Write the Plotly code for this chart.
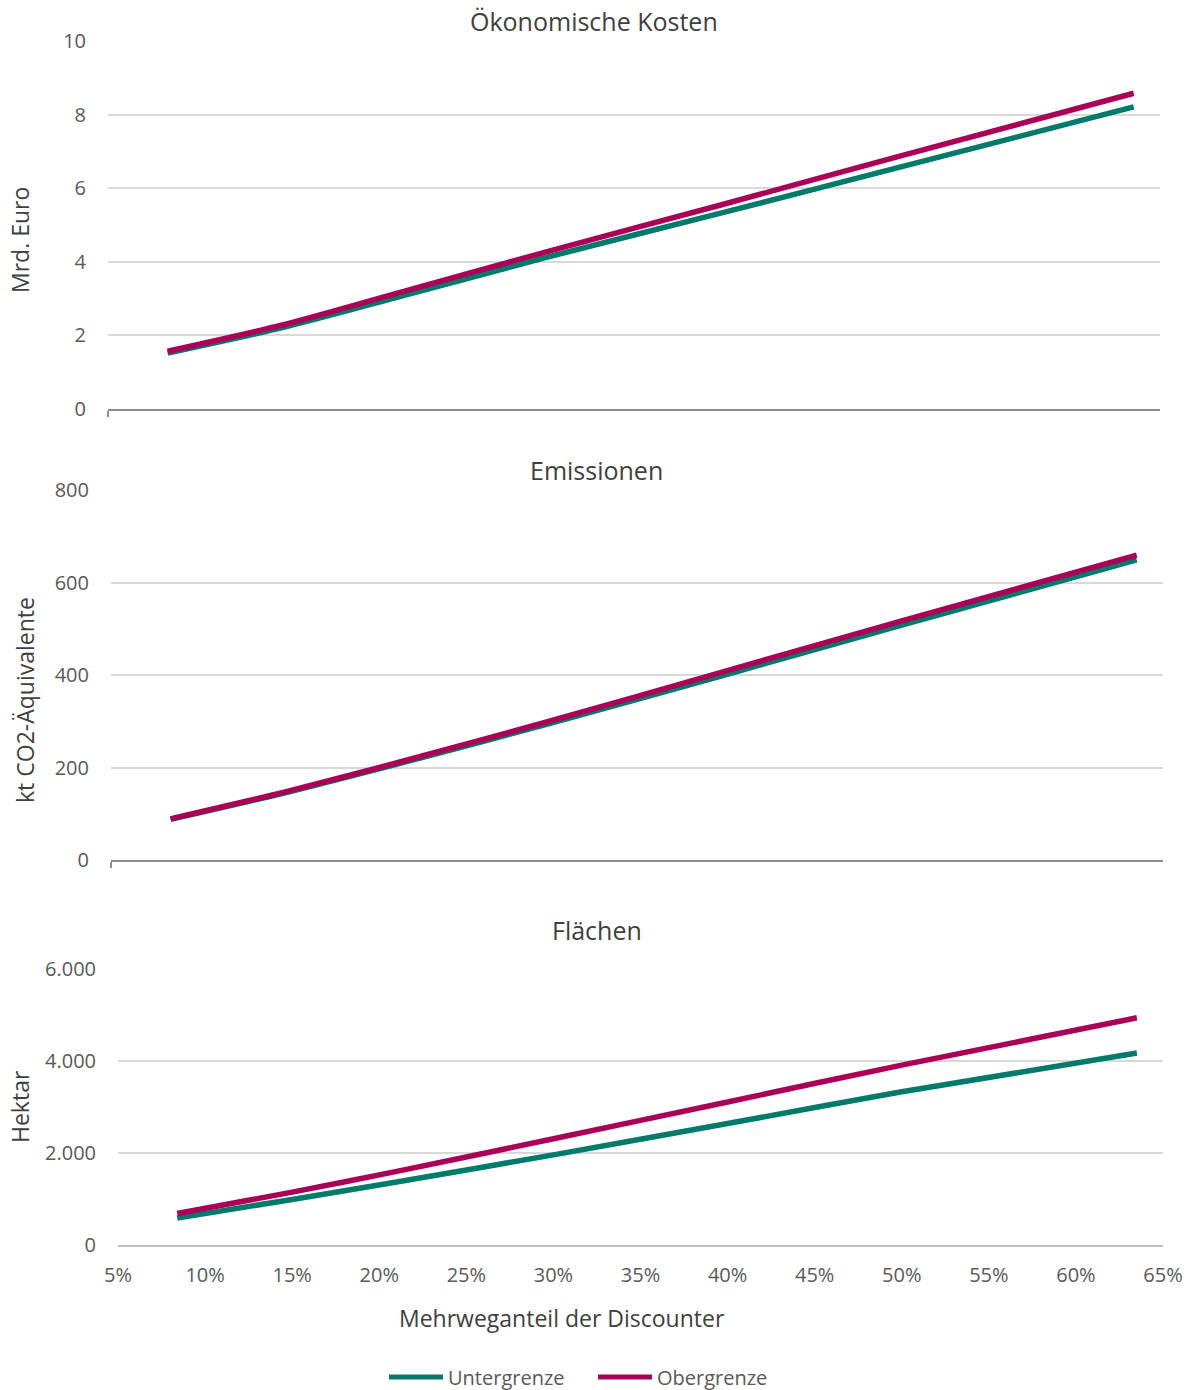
import plotly.graph_objects as go

# Mehrweganteil der Discounter (Anteil, 0-1)
share = [0.084, 0.15, 0.21, 0.30, 0.40, 0.50, 0.635]

# Ökonomische Kosten in Mrd. Euro
kosten_unter = [1.52, 2.22, 2.97, 4.12, 5.33, 6.55, 8.21]
kosten_ober = [1.57, 2.29, 3.08, 4.27, 5.55, 6.85, 8.58]

# Emissionen in kt CO2-Äquivalente
emis_unter = [88, 146, 204, 295, 400, 507, 649]
emis_ober = [89, 148, 207, 300, 408, 516, 659]

# Flächen in Hektar
flaeche_unter = [585, 990, 1370, 1960, 2640, 3330, 4175]
flaeche_ober = [685, 1150, 1600, 2310, 3110, 3910, 4940]

panel_titles = ["Ökonomische Kosten", "Emissionen", "Flächen"]
y_titles = ["Mrd. Euro", "kt CO2-Äquivalente", "Hektar"]
series_names = ["Untergrenze", "Obergrenze"]

GREEN = "#007A6B"
MAGENTA = "#AA0057"
FONT = "Open Sans"
TICK_COLOR = "#595959"
TITLE_COLOR = "#404040"
W, H = 1194, 1390


def px_x(p):
    return p / W


def px_y(p):
    return 1 - p / H


fig = go.Figure()

panels = [
    (kosten_unter, kosten_ober, "x", "y"),
    (emis_unter, emis_ober, "x2", "y2"),
    (flaeche_unter, flaeche_ober, "x3", "y3"),
]
for i, (lo, hi, xa, ya) in enumerate(panels):
    for vals, name, color in ((lo, series_names[0], GREEN), (hi, series_names[1], MAGENTA)):
        fig.add_trace(go.Scatter(
            x=share, y=vals, name=name, mode="lines",
            line=dict(color=color, width=5.5, shape="spline", smoothing=0.8),
            xaxis=xa, yaxis=ya, showlegend=False,
        ))

# plot-area boxes in pixels: (left, right, top, bottom)
boxes = [(108, 1160, 41, 409), (111, 1163, 490, 860), (118, 1163, 969, 1245)]
y_ranges = [(0, 10, 2), (0, 800, 200), (0, 6000, 2000)]

common_y = dict(
    showgrid=True, gridcolor="#d9d9d9", gridwidth=1.5, zeroline=False,
    showline=False, ticks="", tickfont=dict(family=FONT, size=20, color=TICK_COLOR),
    ticklabelstandoff=21, tickformat=",d", automargin=False,
)

layout_axes = {}
for i, ((l, r, t, b), (y0, y1, dt)) in enumerate(zip(boxes, y_ranges)):
    sfx = "" if i == 0 else str(i + 1)
    xa = dict(
        domain=[px_x(l), px_x(r)], range=[0.05, 0.65], anchor="y" + sfx,
        showgrid=False, zeroline=False, showline=True, linewidth=2,
        fixedrange=True, automargin=False,
    )
    if i < 2:
        xa.update(linecolor="#8c8c8c", ticks="outside", tickvals=[0.05],
                  ticklen=6, tickwidth=2, tickcolor="#8c8c8c", showticklabels=False)
    else:
        xa.update(linecolor="#bfbfbf", ticks="", tickmode="linear", tick0=0.05,
                  dtick=0.05, tickformat=".0%", ticklabelstandoff=11,
                  tickfont=dict(family=FONT, size=20, color=TICK_COLOR))
    ya = dict(common_y, domain=[px_y(b), px_y(t)], range=[y0, y1], dtick=dt,
              tick0=0, anchor="x" + sfx)
    layout_axes["xaxis" + sfx] = xa
    layout_axes["yaxis" + sfx] = ya

annotations = []
# panel titles
for text, (cx, cy) in zip(panel_titles, [(594, 21), (596, 470), (597, 930)]):
    annotations.append(dict(
        text=text, x=px_x(cx), y=px_y(cy), xref="paper", yref="paper",
        xanchor="center", yanchor="middle", showarrow=False,
        font=dict(family=FONT, size=25, color=TITLE_COLOR),
    ))
# y-axis titles
for text, (cx, cy) in zip(y_titles, [(20, 240), (25, 700), (20, 1107)]):
    annotations.append(dict(
        text=text, x=px_x(cx), y=px_y(cy), xref="paper", yref="paper",
        xanchor="center", yanchor="middle", showarrow=False, textangle=-90,
        font=dict(family=FONT, size=23, color=TITLE_COLOR),
    ))
# x-axis title
annotations.append(dict(
    text="Mehrweganteil der Discounter", x=px_x(562), y=px_y(1318),
    xref="paper", yref="paper", xanchor="center", yanchor="middle",
    showarrow=False, font=dict(family=FONT, size=23, color=TITLE_COLOR),
))

# legend: line sample followed by series name
shapes = []
legend_y = px_y(1377)
for name, color, (x0, x1) in zip(series_names, (GREEN, MAGENTA), ((389, 443), (598, 652))):
    shapes.append(dict(
        type="line", xref="paper", yref="paper",
        x0=px_x(x0), x1=px_x(x1), y0=legend_y, y1=legend_y,
        line=dict(color=color, width=5),
    ))
    annotations.append(dict(
        text=name, x=px_x(x1 + 3), y=legend_y, xref="paper", yref="paper",
        xanchor="left", yanchor="middle", showarrow=False,
        font=dict(family=FONT, size=20, color=TICK_COLOR),
    ))

fig.update_layout(
    width=W, height=H,
    margin=dict(l=0, r=0, t=0, b=0, autoexpand=False),
    paper_bgcolor="white", plot_bgcolor="white",
    separators=",.",
    showlegend=False,
    annotations=annotations,
    shapes=shapes,
    **layout_axes,
)

fig.write_html("out.html")
